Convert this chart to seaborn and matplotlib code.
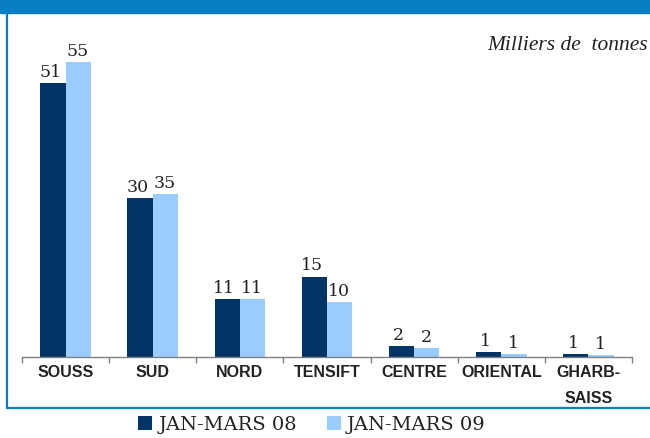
import pandas as pd
import matplotlib.pyplot as plt
import seaborn as sns
from matplotlib.lines import Line2D
from matplotlib.patches import Rectangle

regions = ['SOUSS', 'SUD', 'NORD', 'TENSIFT', 'CENTRE', 'ORIENTAL', 'GHARB-\nSAISS']
periods = ['JAN-MARS 08', 'JAN-MARS 09']
values_08 = [51.0, 29.7, 10.8, 15.0, 2.1, 1.0, 0.47]
values_09 = [55.0, 30.4, 10.8, 10.3, 1.75, 0.6, 0.37]
labels_08 = ['51', '30', '11', '15', '2', '1', '1']
labels_09 = ['55', '35', '11', '10', '2', '1', '1']

dark = '#003366'
light = '#99ccff'
frame_blue = '#0a7ec2'

df = pd.DataFrame({
    'region': regions * 2,
    'periode': [periods[0]] * len(regions) + [periods[1]] * len(regions),
    'tonnes': values_08 + values_09,
})

sns.set_style('white')
fig = plt.figure(figsize=(6.5, 4.38), dpi=100)
ax = fig.add_axes([0.0338, 0.1849, 0.9385, 0.7694])

sns.barplot(data=df, x='region', y='tonnes', hue='periode', order=regions,
            hue_order=periods, palette=[dark, light], width=0.58, gap=0,
            linewidth=0, saturation=1, errorbar=None, ax=ax)

# value labels (rounded figures shown on the original)
for cont, lbls, dx in zip(ax.containers, [labels_08, labels_09], [-2, -0.5]):
    for bar, txt in zip(cont.patches, lbls):
        ax.annotate(txt, (bar.get_x() + bar.get_width() / 2, bar.get_height()),
                    xytext=(dx, 1.5), textcoords='offset points', ha='center', va='bottom',
                    fontsize=12.5, family='DejaVu Serif', color='#222222')

ax.set_xlim(-0.5, len(regions) - 0.5)
ax.set_ylim(0, 62.83)
ax.set_xlabel('')
ax.set_ylabel('')
ax.set_yticks([])
for s in ['left', 'right', 'top']:
    ax.spines[s].set_visible(False)
ax.spines['bottom'].set_color('#808080')
ax.spines['bottom'].set_linewidth(1.0)
ax.set_xticks(range(len(regions)))
ax.set_xticklabels(regions, fontsize=11.5, fontweight='bold', family='Liberation Sans',
                   color='#222222', linespacing=1.85)
ax.set_xticks([i - 0.5 for i in range(len(regions) + 1)], minor=True)
ax.tick_params(axis='x', which='major', length=0, pad=6)
ax.tick_params(axis='x', which='minor', length=4, width=1, color='#808080', direction='out', bottom=True)

sns.move_legend(ax, 'center', bbox_to_anchor=(0.48, 0.03), bbox_transform=fig.transFigure,
                ncol=2, frameon=False, title=None, prop={'family': 'DejaVu Serif', 'size': 14},
                handlelength=0.72, handleheight=0.72, handletextpad=0.3, columnspacing=1.55,
                borderpad=0.1)
for t in ax.get_legend().get_texts():
    t.set_color('#222222')

fig.text(0.997, 1 - 45 / 438, 'Milliers de  tonnes', ha='right', va='center',
         fontsize=15.5, style='italic', family='Liberation Serif', color='#222222')

# blue frame
fig.patches.append(Rectangle((0, 1 - 13 / 438), 1, 13 / 438, transform=fig.transFigure,
                             color=frame_blue, zorder=5))
fig.lines.append(Line2D([7.3 / 650, 7.3 / 650], [1, 1 - 408 / 438], transform=fig.transFigure,
                        color=frame_blue, linewidth=1.6))
fig.lines.append(Line2D([6.5 / 650, 1], [1 - 408 / 438, 1 - 408 / 438], transform=fig.transFigure,
                        color=frame_blue, linewidth=1.6))

fig.savefig('out.png', dpi=100)
plt.close()
